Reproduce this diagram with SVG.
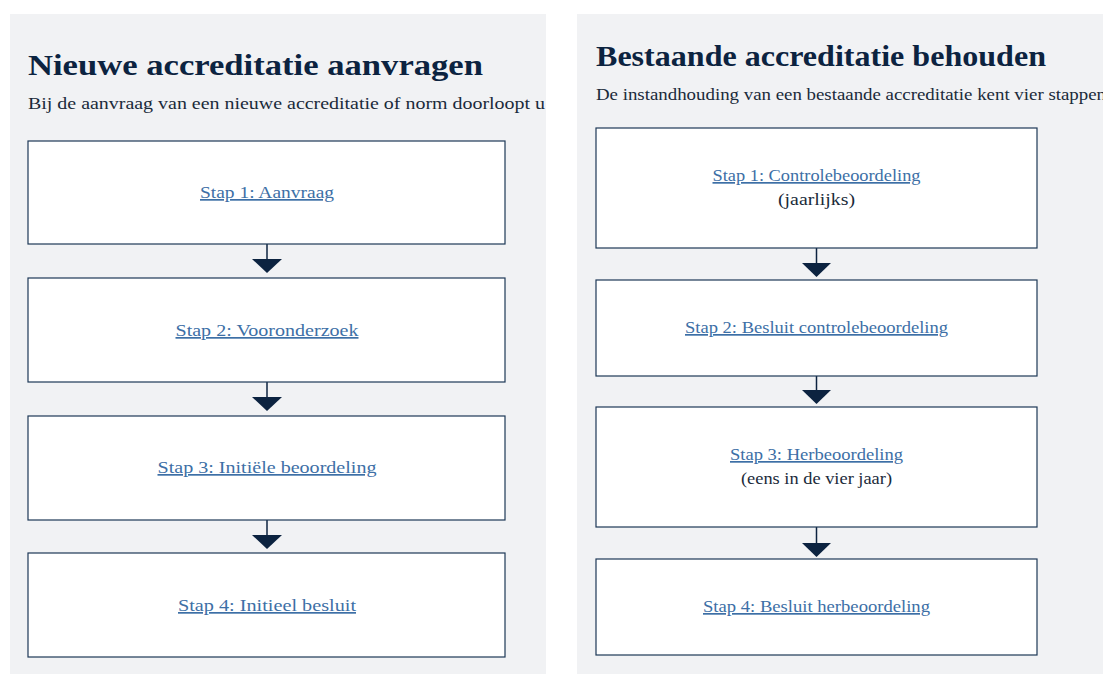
<svg xmlns="http://www.w3.org/2000/svg" width="1103" height="674" viewBox="0 0 1103 674">
<defs>
<style>
.panel{fill:#f1f2f4}
.box{fill:#ffffff;stroke:#1d3856;stroke-width:1.2}
.title{font-family:"Liberation Serif",serif;font-weight:bold;font-size:29px;fill:#0c2340}
.sub{font-family:"Liberation Serif",serif;font-size:16px;fill:#1a2a3a}
.link{font-family:"Liberation Serif",serif;font-size:17px;fill:#3d6fa6;text-decoration:underline;text-anchor:middle}
.note{font-family:"Liberation Serif",serif;font-size:17px;fill:#1a2a3a;text-anchor:middle}
.conn{stroke:#0c2340;stroke-width:1.5;fill:none}
.head{fill:#0c2340}
</style>
<clipPath id="cl"><rect x="10" y="14" width="536" height="660"/></clipPath>
<clipPath id="cr"><rect x="577" y="14" width="526" height="660"/></clipPath>
</defs>
<rect width="1103" height="674" fill="#ffffff"/>
<rect class="panel" x="10" y="14" width="536" height="660"/>
<rect class="panel" x="577" y="14" width="526" height="660"/>
<g clip-path="url(#cl)">
<text class="title" x="28" y="75" textLength="455" lengthAdjust="spacingAndGlyphs">Nieuwe accreditatie aanvragen</text>
<text class="sub" x="28" y="109" textLength="517" lengthAdjust="spacingAndGlyphs">Bij de aanvraag van een nieuwe accreditatie of norm doorloopt u</text>
</g>
<g clip-path="url(#cr)">
<text class="title" x="596" y="66" textLength="450" lengthAdjust="spacingAndGlyphs">Bestaande accreditatie behouden</text>
<text class="sub" x="596" y="100" textLength="510" lengthAdjust="spacingAndGlyphs">De instandhouding van een bestaande accreditatie kent vier stappen</text>
</g>
<g id="connectors">
<line class="conn" x1="267" y1="244" x2="267" y2="260"/>
<polygon class="head" points="252,259 282,259 267,273"/>
<line class="conn" x1="267" y1="382" x2="267" y2="398"/>
<polygon class="head" points="252,397 282,397 267,411"/>
<line class="conn" x1="267" y1="520" x2="267" y2="536"/>
<polygon class="head" points="252,535 282,535 267,549"/>
<line class="conn" x1="816.5" y1="248" x2="816.5" y2="264"/>
<polygon class="head" points="802,263 831,263 816.5,277"/>
<line class="conn" x1="816.5" y1="376" x2="816.5" y2="391"/>
<polygon class="head" points="802,390 831,390 816.5,404"/>
<line class="conn" x1="816.5" y1="527" x2="816.5" y2="544"/>
<polygon class="head" points="802,543 831,543 816.5,557"/>
</g>
<g id="l1"><rect class="box" x="28" y="141" width="477" height="103"/><text class="link" x="267" y="198" textLength="134" lengthAdjust="spacingAndGlyphs">Stap 1: Aanvraag</text></g>
<g id="l2"><rect class="box" x="28" y="278" width="477" height="104"/><text class="link" x="267" y="336" textLength="183" lengthAdjust="spacingAndGlyphs">Stap 2: Vooronderzoek</text></g>
<g id="l3"><rect class="box" x="28" y="416" width="477" height="104"/><text class="link" x="267" y="473" textLength="219" lengthAdjust="spacingAndGlyphs">Stap 3: Initiële beoordeling</text></g>
<g id="l4"><rect class="box" x="28" y="553" width="477" height="104"/><text class="link" x="267" y="611" textLength="178" lengthAdjust="spacingAndGlyphs">Stap 4: Initieel besluit</text></g>
<g id="r1"><rect class="box" x="596" y="128" width="441" height="120"/><text class="link" x="816.5" y="181" textLength="208" lengthAdjust="spacingAndGlyphs">Stap 1: Controlebeoordeling</text><text class="note" x="816.5" y="205" textLength="77" lengthAdjust="spacingAndGlyphs">(jaarlijks)</text></g>
<g id="r2"><rect class="box" x="596" y="280" width="441" height="96"/><text class="link" x="816.5" y="333" textLength="263" lengthAdjust="spacingAndGlyphs">Stap 2: Besluit controlebeoordeling</text></g>
<g id="r3"><rect class="box" x="596" y="407" width="441" height="120"/><text class="link" x="816.5" y="460" textLength="173" lengthAdjust="spacingAndGlyphs">Stap 3: Herbeoordeling</text><text class="note" x="816.5" y="484" textLength="151" lengthAdjust="spacingAndGlyphs">(eens in de vier jaar)</text></g>
<g id="r4"><rect class="box" x="596" y="559" width="441" height="96"/><text class="link" x="816.5" y="612" textLength="227" lengthAdjust="spacingAndGlyphs">Stap 4: Besluit herbeoordeling</text></g>
</svg>
